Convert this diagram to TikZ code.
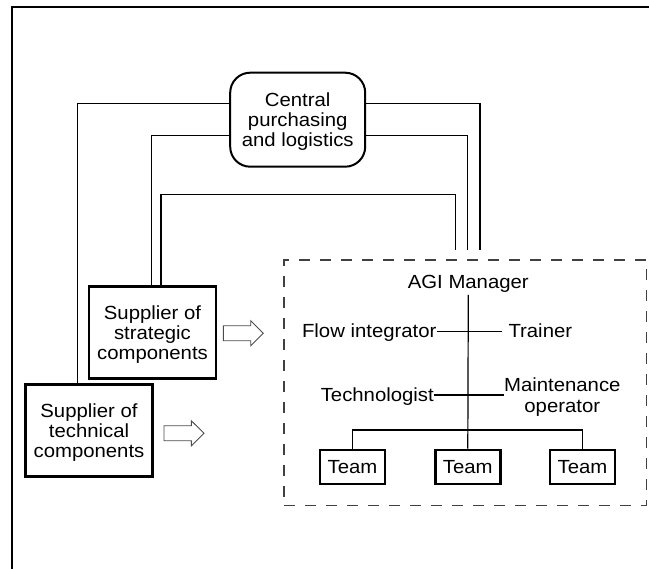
\documentclass[tikz,border=0pt]{standalone}
\usepackage{fontspec}
\setmainfont{Liberation Sans}[FakeStretch=1.07]
\begin{document}
\begin{tikzpicture}[x=1pt,y=-1pt,
  every node/.style={font=\fontsize{19}{20.3}\selectfont},
  conn/.style={line width=1.2pt},
  sbox/.style={draw, line width=2.6pt, align=center, text depth=0pt, inner sep=0pt},
  cbox/.style={draw, line width=2pt, rounded corners=20pt, align=center, text depth=0pt, inner sep=0pt},
  dbox/.style={draw=black!75, line width=1.6pt, dash pattern=on 11pt off 10pt, inner sep=0pt},
  lbl/.style={inner sep=0pt},
  harrow/.style={draw=black!70, line width=0.9pt, fill=white},
  frame/.style={line width=2pt}]
\useasboundingbox (0,0) rectangle (649,569);
% frame
\draw[frame] (11.5,569) -- (11.5,7) -- (649,7);
% boxes
\node[cbox, minimum width=135pt, minimum height=94pt] (central) at (297.7,119.7)
  {Central\\purchasing\\and logistics};
\node[sbox, minimum width=127pt, minimum height=92pt] (strat) at (152.5,332.7)
  {Supplier of\\strategic\\components};
\node[sbox, minimum width=126.6pt, minimum height=92.4pt] (tech) at (89,430.5)
  {Supplier of\\technical\\components};
\node[dbox, minimum width=362.5pt, minimum height=245.5pt] (agi) at (465.25,382.75) {};
% connectors from/to central
\coordinate (e1) at (480,250);
\coordinate (e2) at (467.7,250);
\coordinate (e3) at (455.7,250);
\draw[conn] (central.west |- 0,103.7) -| (tech.north -| 77.7,0);
\draw[conn] (central.west |- 0,135.7) -| (strat.north -| 151.7,0);
\draw[conn] (strat.north -| 161,0) |- (0,194.7 -| e3) -- (e3);
\draw[conn] (central.east |- 0,103.7) -| (e1);
\draw[conn] (central.east |- 0,135.7) -| (e2);
% hollow arrows
\draw[harrow] (223.3,325.8) -- (250.7,325.8) -- (250.7,320.8) -- (263.3,333.3)
  -- (250.7,345.8) -- (250.7,340.8) -- (223.3,340.8) -- cycle;
\begin{scope}[shift={(-59.3,100)}]
\draw[harrow] (223.3,325.8) -- (250.7,325.8) -- (250.7,320.8) -- (263.3,333.3)
  -- (250.7,345.8) -- (250.7,340.8) -- (223.3,340.8) -- cycle;
\end{scope}
% AGI organisation
\node[inner sep=2.5pt, anchor=base] (mgr) at (468.3,288.3) {AGI Manager};
\node[lbl, anchor=base east] (flow) at (436.7,337.7) {Flow integrator};
\node[lbl, anchor=base west] (trainer) at (508.3,337.7) {Trainer};
\node[lbl, anchor=base east] (techno) at (434,401.7) {Technologist};
\node[lbl, align=center, text depth=0pt] (maint) at (562.3,395) {Maintenance\\operator};
\node[sbox, minimum width=65pt, minimum height=34pt] (team1) at (352.5,467) {Team};
\node[sbox, minimum width=65pt, minimum height=34pt] (team2) at (467.8,467) {Team};
\node[sbox, minimum width=65pt, minimum height=34pt] (team3) at (582.5,467) {Team};
\draw[conn] (mgr.south) -- (team2.north);
\draw[conn] (flow.east |- 0,331.7) -- ([xshift=-6pt]trainer.west |- 0,331.7);
\draw[conn] (techno.east |- 0,395) -- (maint.west |- 0,395);
\draw[conn] (team1.north) -- ++(0,-18.7) -| (team3.north);
\end{tikzpicture}
\end{document}
